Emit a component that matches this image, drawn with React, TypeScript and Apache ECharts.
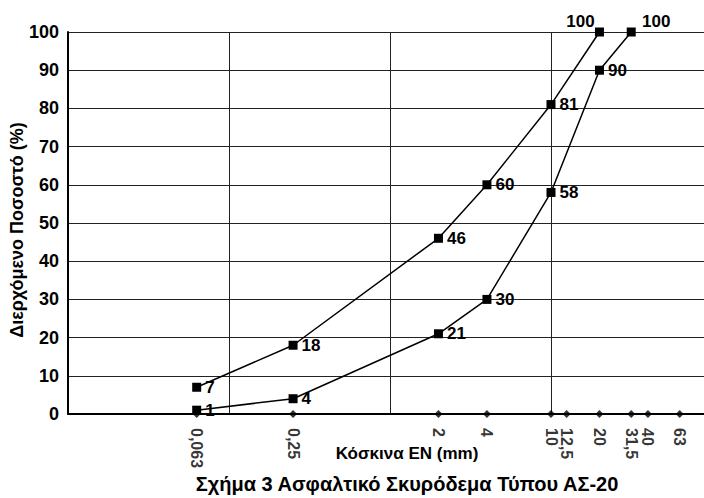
import React, { useEffect, useRef } from "react";
import * as echarts from "echarts";

const sieveSizes = [0.063, 0.25, 2, 4, 10, 12.5, 20, 31.5, 40, 63];
const upperSieves = [0.063, 0.25, 2, 4, 10, 20];
const upperValues = [7, 18, 46, 60, 81, 100];
const lowerSieves = [0.063, 0.25, 2, 4, 10, 20, 31.5];
const lowerValues = [1, 4, 21, 30, 58, 90, 100];
const yTicks = [0, 10, 20, 30, 40, 50, 60, 70, 80, 90, 100];

const titleText = "Σχήμα 3 Ασφαλτικό Σκυρόδεμα Τύπου ΑΣ-20";
const xName = "Κόσκινα ΕΝ (mm)";
const yName = "Διερχόμενο Ποσοστό (%)";

const FONT = "'Liberation Sans', Arial, sans-serif";

export default function App() {
  const ref = useRef<HTMLDivElement>(null);
  useEffect(() => {
    if (!ref.current) return;
    const chart = echarts.init(ref.current, undefined, { renderer: "svg" });
    const labelStyle = {
      show: true,
      position: "right" as const,
      distance: 4,
      color: "#000",
      fontFamily: FONT,
      fontWeight: "bold" as const,
      fontSize: 17,
    };
    const makeData = (xs: number[], ys: number[], topOffset: number[]) =>
      xs.map((x, i) => {
        const d: any = { value: [x, ys[i]] };
        if (ys[i] === 100) {
          d.label = { position: "top", offset: topOffset, distance: 1 };
        }
        return d;
      });
    chart.setOption({
      animation: false,
      backgroundColor: "#fff",
      grid: {
        left: 68,
        top: 32,
        bottom: 84,
        right: 0,
        containLabel: false,
        outerBoundsMode: "none",
      },
      xAxis: {
        type: "log",
        logBase: 10,
        min: 0.01,
        max: 100,
        axisLine: { show: true, onZero: false, lineStyle: { color: "#000", width: 2 } },
        axisTick: { show: false },
        axisLabel: { show: false },
        splitLine: { show: true, lineStyle: { color: "#222", width: 1 } },
        minorTick: { show: false },
      },
      yAxis: {
        type: "value",
        min: 0,
        max: 100,
        interval: 10,
        axisLine: { show: true, lineStyle: { color: "#000", width: 2 } },
        axisTick: { show: false },
        axisLabel: {
          color: "#000",
          fontFamily: FONT,
          fontWeight: "bold",
          fontSize: 18,
          margin: 9,
          formatter: (v: number) => (yTicks.includes(v) ? String(v) : ""),
        },
        splitLine: { show: true, lineStyle: { color: "#222", width: 1 } },
      },
      series: [
        {
          type: "scatter",
          data: sieveSizes.map((s) => [s, 0]),
          symbol: "diamond",
          symbolSize: 8,
          itemStyle: { color: "#000" },
          z: 1,
          label: {
            show: true,
            position: "bottom",
            distance: 10,
            rotate: -90,
            align: "left",
            verticalAlign: "middle",
            color: "#000",
            fontFamily: FONT,
            fontWeight: "bold",
            fontSize: 16,
            formatter: (p: any) => String(p.value[0]).replace(".", ","),
          },
        },
        {
          type: "line",
          data: makeData(upperSieves, upperValues, [-19, 3]),
          symbol: "rect",
          symbolSize: 9,
          lineStyle: { color: "#000", width: 1.5 },
          itemStyle: { color: "#000" },
          label: labelStyle,
          z: 3,
        },
        {
          type: "line",
          data: makeData(lowerSieves, lowerValues, [25, 3]),
          symbol: "rect",
          symbolSize: 9,
          lineStyle: { color: "#000", width: 1.5 },
          itemStyle: { color: "#000" },
          label: labelStyle,
          z: 3,
        },
      ],
      graphic: [
        {
          type: "text",
          x: 17,
          y: 230,
          rotation: Math.PI / 2,
          style: {
            text: yName,
            fill: "#000",
            font: `bold 18px ${FONT}`,
            textAlign: "center",
            textVerticalAlign: "middle",
          },
        },
        {
          type: "text",
          x: 407,
          y: 453,
          style: {
            text: xName,
            fill: "#000",
            font: `bold 17px ${FONT}`,
            textAlign: "center",
            textVerticalAlign: "middle",
          },
        },
        {
          type: "text",
          x: 407,
          y: 484,
          style: {
            text: titleText,
            fill: "#000",
            font: `bold 20px ${FONT}`,
            textAlign: "center",
            textVerticalAlign: "middle",
          },
        },
      ],
    });
    return () => chart.dispose();
  }, []);
  return (
    <div
      ref={ref}
      style={{ position: "fixed", left: 0, top: 0, width: 712, height: 498 }}
    />
  );
}
